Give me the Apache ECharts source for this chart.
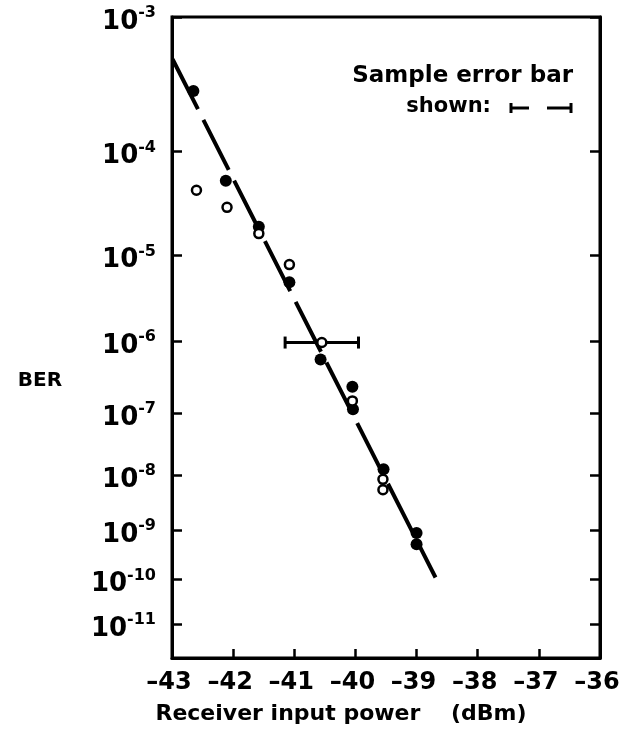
<!DOCTYPE html>
<html>
<head>
<meta charset="utf-8">
<script src="https://cdn.jsdelivr.net/npm/echarts@6/dist/echarts.min.js"></script>
<style>
  html, body { margin: 0; padding: 0; background: #fff; }
  #chart { width: 622px; height: 731px; }
</style>
</head>
<body>
<div id="chart"></div>
<script>
// ---- data ----
// x ticks (dBm)
const xTickValues = [-43, -42, -41, -40, -39, -38, -37, -36];
const xTickLabels = ['\u201343', '\u201342', '\u201341', '\u201340', '\u201339', '\u201338', '\u201337', '\u201336'];
// y ticks: BER = 10^-exp
const yTickExps = [3, 4, 5, 6, 7, 8, 9, 10, 11];

// filled circles
const filledPower = [-42.65, -42.12, -41.58, -41.08, -40.57, -40.05, -40.04, -39.54, -39.0, -39.0];
const filledBer   = [3.05e-4, 5.5e-5, 2.0e-5, 5.1e-6, 5.7e-7, 2.4e-7, 1.13e-7, 1.26e-8, 8.8e-10, 5.3e-10];
// open circles
const openPower = [-42.6, -42.1, -41.58, -41.08, -40.55, -40.05, -39.55, -39.55];
const openBer   = [4.5e-5, 3.1e-5, 1.7e-5, 8.0e-6, 9.5e-7, 1.5e-7, 8.5e-9, 5.6e-9];
// fitted line
const fitPower = [-42.99, -38.69];
const fitBer   = [5.2e-4, 1.1e-10];
// sample error bar (on one open point)
const errPower = [-40.55];
const errBer   = [9.5e-7];
const errLow   = [-41.15];
const errHigh  = [-39.95];

// BER paper scale: linear in log10(-log10(BER))
const T = b => Math.log10(-Math.log10(b));
const Y_TOP = Math.log10(3);
const Y_BOTTOM = Y_TOP + 641 / 1075.7;
const yTickT = yTickExps.map(e => Math.log10(e));

const FONT = '"DejaVu Sans", Verdana, sans-serif';

const chart = echarts.init(document.getElementById('chart'));

const yLabelFormatter = v => {
  const n = Math.round(Math.pow(10, v));
  return '{b|10}{s|-' + n + '}';
};

const option = {
  animation: false,
  backgroundColor: '#fff',
  grid: {
    left: 172, right: 22, top: 17, bottom: 73,
    outerBoundsMode: 'none', containLabel: false,
    show: true, borderColor: '#000', borderWidth: 3, backgroundColor: 'transparent'
  },
  xAxis: {
    type: 'value', min: -43, max: -36, interval: 1,
    axisLine: { show: true, lineStyle: { color: '#000', width: 3 } },
    axisTick: { show: true, inside: true, length: 9, lineStyle: { color: '#000', width: 2.5 } },
    splitLine: { show: false },
    axisLabel: {
      color: '#000', fontSize: 24, fontWeight: 'bold', fontFamily: FONT, margin: 13,
      padding: [0, 6, 0, 0],
      showMinLabel: true, showMaxLabel: true, hideOverlap: false,
      formatter: v => xTickLabels[xTickValues.indexOf(Math.round(v))]
    },
    name: 'Receiver input power    (dBm)',
    nameLocation: 'middle',
    nameGap: 45,
    nameTextStyle: { color: '#000', fontSize: 22, fontWeight: 'bold', fontFamily: FONT, padding: [0, 90, 0, 0] }
  },
  yAxis: [
    {
      type: 'value', inverse: true, min: Y_TOP, max: Y_BOTTOM, position: 'left',
      axisLine: { show: true, lineStyle: { color: '#000', width: 3 } },
      axisTick: { show: true, inside: true, length: 10, customValues: yTickT, lineStyle: { color: '#000', width: 2.5 } },
      splitLine: { show: false },
      axisLabel: {
        customValues: yTickT, margin: 16, color: '#000', padding: [6, 0, 0, 0],
        formatter: yLabelFormatter,
        rich: {
          b: { fontSize: 26, fontWeight: 'bold', fontFamily: FONT, color: '#000', lineHeight: 30, verticalAlign: 'bottom' },
          s: { fontSize: 16, fontWeight: 'bold', fontFamily: FONT, color: '#000', lineHeight: 16, verticalAlign: 'top' }
        }
      }
    },
    {
      type: 'value', inverse: true, min: Y_TOP, max: Y_BOTTOM, position: 'right',
      axisLine: { show: true, lineStyle: { color: '#000', width: 3 } },
      axisTick: { show: true, inside: true, length: 10, customValues: yTickT, lineStyle: { color: '#000', width: 2.5 } },
      splitLine: { show: false },
      axisLabel: { show: false }
    }
  ],
  graphic: [
    { type: 'text', x: 40, y: 381, style: { text: 'BER', fill: '#000', font: 'bold 20px ' + FONT, textAlign: 'center', textVerticalAlign: 'middle' } },
    { type: 'text', x: 573, y: 76, style: { text: 'Sample error bar', fill: '#000', font: 'bold 23px ' + FONT, textAlign: 'right', textVerticalAlign: 'middle' } },
    { type: 'text', x: 491, y: 107, style: { text: 'shown:', fill: '#000', font: 'bold 21px ' + FONT, textAlign: 'right', textVerticalAlign: 'middle' } },
    { type: 'line', shape: { x1: 511, y1: 108, x2: 529, y2: 108 }, style: { stroke: '#000', lineWidth: 3 } },
    { type: 'line', shape: { x1: 511, y1: 103, x2: 511, y2: 113 }, style: { stroke: '#000', lineWidth: 3 } },
    { type: 'line', shape: { x1: 547, y1: 108, x2: 571, y2: 108 }, style: { stroke: '#000', lineWidth: 3 } },
    { type: 'line', shape: { x1: 571, y1: 103, x2: 571, y2: 113 }, style: { stroke: '#000', lineWidth: 3 } }
  ],
  series: [
    {
      name: 'fit', type: 'line', yAxisIndex: 0, symbol: 'none', z: 2,
      data: fitPower.map((x, i) => [x, T(fitBer[i])]),
      lineStyle: { color: '#000', width: 4, type: [56, 12] }
    },
    {
      name: 'errorbar', type: 'custom', yAxisIndex: 0, z: 3,
      data: errPower.map((x, i) => [x, T(errBer[i]), errLow[i], errHigh[i]]),
      encode: { x: [0, 2, 3], y: 1 },
      renderItem: (params, api) => {
        const yv = api.value(1);
        const p1 = api.coord([api.value(2), yv]);
        const p2 = api.coord([api.value(3), yv]);
        const st = { stroke: '#000', lineWidth: 3 };
        return {
          type: 'group',
          children: [
            { type: 'line', shape: { x1: p1[0], y1: p1[1], x2: p2[0], y2: p2[1] }, style: st },
            { type: 'line', shape: { x1: p1[0], y1: p1[1] - 6, x2: p1[0], y2: p1[1] + 6 }, style: st },
            { type: 'line', shape: { x1: p2[0], y1: p2[1] - 6, x2: p2[0], y2: p2[1] + 6 }, style: st }
          ]
        };
      }
    },
    {
      name: 'filled', type: 'scatter', yAxisIndex: 0, z: 4,
      symbol: 'circle', symbolSize: 12,
      data: filledPower.map((x, i) => [x, T(filledBer[i])]),
      itemStyle: { color: '#000', opacity: 1 }
    },
    {
      name: 'open', type: 'scatter', yAxisIndex: 0, z: 5,
      symbol: 'circle', symbolSize: 9,
      data: openPower.map((x, i) => [x, T(openBer[i])]),
      itemStyle: { color: '#fff', borderColor: '#000', borderWidth: 2.5, opacity: 1 }
    }
  ]
};

chart.setOption(option);
</script>
</body>
</html>
